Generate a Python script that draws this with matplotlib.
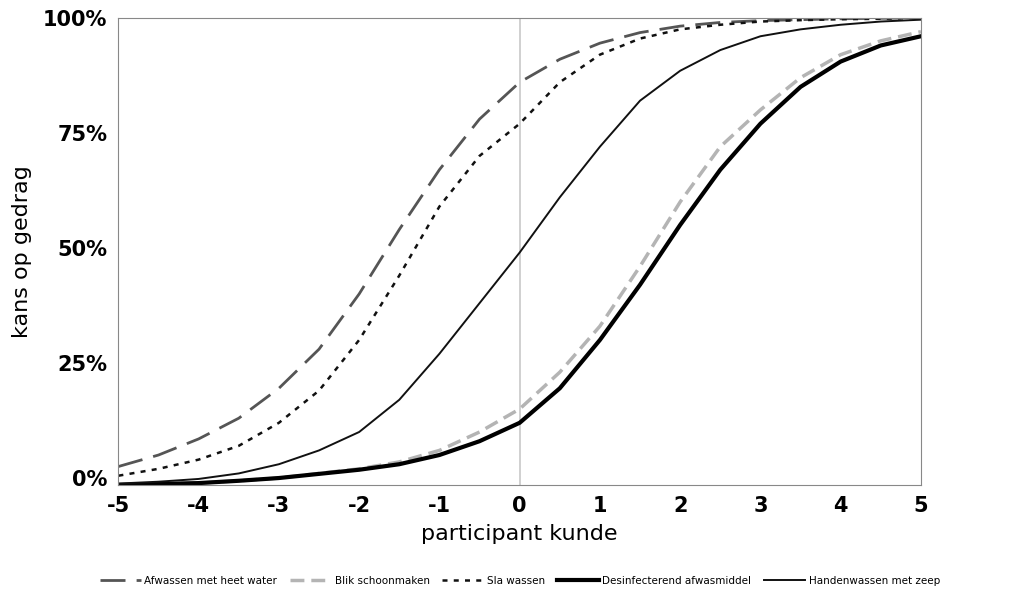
import matplotlib.pyplot as plt

x = [-5, -4.5, -4, -3.5, -3, -2.5, -2, -1.5, -1, -0.5, 0, 0.5, 1, 1.5, 2, 2.5, 3, 3.5, 4, 4.5, 5]

afwassen = [2.5, 5, 8.5, 13, 19.5, 28, 40, 54, 67, 78, 86, 91, 94.5, 96.8, 98.2, 99, 99.4, 99.6, 99.8, 99.9, 100]
blik = [-1.5, -1.3, -1.1, -0.6, 0, 1, 2, 3.5, 6, 10, 15, 23, 33, 46, 60, 72, 80, 87, 92, 95, 97]
sla = [0.5, 2, 4, 7, 12, 19, 30, 44, 59, 70, 77, 86, 92, 95.5, 97.5, 98.5, 99.2, 99.5, 99.7, 99.8, 100]
desinf = [-1.5, -1.3, -1.1, -0.6, 0, 0.9, 1.8, 3, 5, 8, 12, 19.5, 30, 42, 55, 67, 77, 85, 90.5, 94, 96]
handen = [-1.2, -0.8, -0.2, 1, 3, 6, 10, 17, 27, 38, 49, 61, 72, 82, 88.5, 93, 96, 97.5, 98.5, 99.2, 99.6]

tick_x = [-5, -4, -3, -2, -1, 0, 1, 2, 3, 4, 5]
tick_y = [0, 25, 50, 75, 100]

plt.rcParams["font.family"] = "DejaVu Sans"
plt.rcParams["axes.unicode_minus"] = False
plt.rcParams["lines.solid_joinstyle"] = "round"
fig = plt.figure(figsize=(10.12, 5.95), dpi=100)
ax = fig.add_axes([0.117, 0.185, 0.793, 0.785])

ax.axvline(0, color="#c8c8c8", lw=1.2, zorder=0)
ax.plot(x, afwassen, color="#555555", lw=2, dashes=(9, 4), label="Afwassen met heet water")
ax.plot(x, blik, color="#b4b4b4", lw=2.5, dashes=(4, 2), label="Blik schoonmaken")
ax.plot(x, sla, color="#111111", lw=1.8, dashes=(2, 2.5), label="Sla wassen")
ax.plot(x, desinf, color="#000000", lw=3, label="Desinfecterend afwasmiddel")
ax.plot(x, handen, color="#111111", lw=1.4, label="Handenwassen met zeep")

ax.set_xlim(-5, 5)
ax.set_ylim(-1.5, 100)
ax.set_xticks(tick_x)
ax.set_yticks(tick_y)
ax.set_yticklabels([f"{v}%" for v in tick_y])
ax.tick_params(length=0, labelsize=15, pad=8)
for lab in ax.get_xticklabels() + ax.get_yticklabels():
    lab.set_fontweight("bold")
for s in ax.spines.values():
    s.set_color("#888888")
ax.set_xlabel("participant kunde", fontsize=16, labelpad=6)
ax.set_ylabel("kans op gedrag", fontsize=16, labelpad=8)

ax.legend(loc="upper center", bbox_to_anchor=(0.5, -0.175), ncol=5, frameon=False,
          fontsize=7.5, handlelength=4, handletextpad=0.3, columnspacing=1.2)

fig.savefig("out.png", dpi=100)
